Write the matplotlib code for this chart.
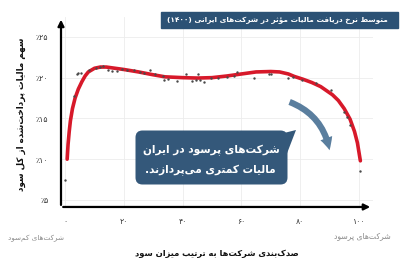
import re
import matplotlib
matplotlib.use("Agg")
import matplotlib.pyplot as plt
from matplotlib.patches import Rectangle, FancyBboxPatch, Polygon, FancyArrowPatch

# --- data ---
dot_pct = [0, 3, 4, 4.5, 5.5, 8, 10.5, 12, 13, 14.6, 16, 17.6, 19.3, 21, 23.3, 25.6, 27,
           29, 30.7, 33.2, 33.5, 35, 38, 41, 43.2, 44.4, 45.2, 46, 47.4, 49.5, 52, 55,
           57.4, 58.6, 64.3, 69.4, 70, 75.7, 77.4, 80.8, 85.3, 90.4, 95, 96, 97, 100.4]
dot_val = [7.5, 17.8, 20.5, 20.6, 20.6, 20.9, 21.2, 21.35, 21.4, 20.9, 20.8, 20.8, 21.0,
           20.9, 20.9, 20.7, 20.6, 20.9, 20.5, 20.2, 19.7, 19.8, 19.6, 20.5, 19.6, 19.7,
           20.4, 19.7, 19.5, 19.9, 20.0, 20.1, 20.25, 20.75, 20.0, 20.4, 20.45, 20.0,
           20.1, 19.7, 19.3, 18.5, 15.8, 15.2, 14.2, 8.5]

fit_pct = [0.7, 1.0, 1.4, 1.8, 2.5, 3.4, 4.5, 5.7, 6.8, 7.9, 10, 12, 14, 17, 20, 25, 30,
           34, 40, 45, 50, 55, 60, 65, 70, 73, 76, 78, 81, 84, 87, 89, 91, 93, 95, 97,
           98.5, 99.5, 100.5]
fit_val = [10.0, 11.8, 13.4, 14.7, 16.2, 17.5, 18.6, 19.5, 20.2, 20.7, 21.15, 21.3, 21.3,
           21.15, 21.0, 20.7, 20.35, 20.1, 20.0, 19.95, 20.0, 20.2, 20.45, 20.7, 20.75,
           20.7, 20.45, 20.15, 19.8, 19.4, 18.9, 18.4, 17.9, 17.2, 16.2, 14.9, 13.4, 12.0,
           9.8]

x_ticks = [0, 20, 40, 60, 80, 100]
x_labels = ["۰", "۲۰", "۴۰", "۶۰", "۸۰", "۱۰۰"]
y_ticks = [5, 10, 15, 20, 25]
y_labels = ["٪۵", "٪۱۰", "٪۱۵", "٪۲۰", "٪۲۵"]

title = "متوسط نرخ دریافت مالیات مؤثر در شرکت‌های ایرانی (۱۴۰۰)"
ylab = "سهم مالیات پرداخت‌شده از کل سود"
xlab = "صدک‌بندی شرکت‌ها به ترتیب میزان سود"
low_lab = "شرکت‌های کم‌سود"
high_lab = "شرکت‌های پرسود"
note = ["شرکت‌های پرسود در ایران", "مالیات کمتری می‌پردازند."]

# --- minimal persian shaping (matplotlib has no bidi / joining) ---
FORMS = {
    "ا": (0xFE8D, 0xFE8E), "د": (0xFEA9, 0xFEAA), "ر": (0xFEAD, 0xFEAE),
    "ز": (0xFEAF, 0xFEB0), "و": (0xFEED, 0xFEEE), "ؤ": (0xFE85, 0xFE86),
    "ب": (0xFE8F, 0xFE90, 0xFE91, 0xFE92), "پ": (0xFB56, 0xFB57, 0xFB58, 0xFB59),
    "ت": (0xFE95, 0xFE96, 0xFE97, 0xFE98), "ث": (0xFE99, 0xFE9A, 0xFE9B, 0xFE9C),
    "خ": (0xFEA5, 0xFEA6, 0xFEA7, 0xFEA8), "س": (0xFEB1, 0xFEB2, 0xFEB3, 0xFEB4),
    "ش": (0xFEB5, 0xFEB6, 0xFEB7, 0xFEB8), "ص": (0xFEB9, 0xFEBA, 0xFEBB, 0xFEBC),
    "ط": (0xFEC1, 0xFEC2, 0xFEC3, 0xFEC4), "ف": (0xFED1, 0xFED2, 0xFED3, 0xFED4),
    "ل": (0xFEDD, 0xFEDE, 0xFEDF, 0xFEE0), "م": (0xFEE1, 0xFEE2, 0xFEE3, 0xFEE4),
    "ن": (0xFEE5, 0xFEE6, 0xFEE7, 0xFEE8), "ه": (0xFEE9, 0xFEEA, 0xFEEB, 0xFEEC),
    "ک": (0xFB8E, 0xFB8F, 0xFB90, 0xFB91), "ی": (0xFBFC, 0xFBFD, 0xFBFE, 0xFBFF),
}


def fa(text):
    out = []
    n = len(text)
    for i, c in enumerate(text):
        if c not in FORMS:
            if c != "\u200c":
                out.append(c)
            continue
        f = FORMS[c]
        prev = text[i - 1] if i > 0 else ""
        nxt = text[i + 1] if i + 1 < n else ""
        jp = prev in FORMS and len(FORMS[prev]) == 4
        jn = len(f) == 4 and nxt in FORMS
        if jp and jn:
            g = f[3]
        elif jp:
            g = f[1]
        elif jn:
            g = f[2]
        else:
            g = f[0]
        out.append(chr(g))
    s = "".join(out)
    parts = re.split(r"([۰-۹0-9]+)", s)
    res = []
    for p in reversed(parts):
        if re.fullmatch(r"[۰-۹0-9]+", p or "x"):
            res.append(p)
        else:
            res.append(p[::-1].translate(str.maketrans("()", ")(")))
    return "".join(res)


plt.rcParams["font.family"] = ["DejaVu Sans"]

fig = plt.figure(figsize=(4, 2.64), dpi=100)
ax = fig.add_axes([0.1525, 0.216, 0.78, 0.72])
ax.set_xlim(-1.4, 104.8)
ax.set_ylim(4.14, 27.45)

ax.grid(color="#ececec", lw=0.6)
ax.set_axisbelow(True)
for s in ax.spines.values():
    s.set_visible(False)

ax.scatter(dot_pct, dot_val, s=3, color="#4a4a4a", zorder=3, lw=0)
ax.plot(fit_pct, fit_val, color="#d7192a", lw=2.6, zorder=2, solid_capstyle="round")

ax.set_xticks(x_ticks)
ax.set_xticklabels(x_labels)
ax.set_yticks(y_ticks)
ax.set_yticklabels(y_labels)
ax.tick_params(length=0, labelsize=5.6, colors="#333333")
ax.tick_params(axis="x", pad=7)
ax.tick_params(axis="y", pad=9)

# axis arrows
ax.annotate("", xy=(1, 0), xytext=(-0.002, 0), xycoords="axes fraction",
            arrowprops=dict(arrowstyle="-|>", lw=1.6, color="black", mutation_scale=9))
ax.annotate("", xy=(0, 1), xytext=(0, -0.004), xycoords="axes fraction",
            arrowprops=dict(arrowstyle="-|>", lw=1.6, color="black", mutation_scale=9))

# overlay in pixel coordinates for the decorations
ov = fig.add_axes([0, 0, 1, 1], facecolor="none")
ov.set_xlim(0, 400)
ov.set_ylim(264, 0)
ov.axis("off")

ov.add_patch(Rectangle((161, 12), 237, 16, color="#2c5275"))
ov.text(277, 20, fa(title), color="white", fontsize=5.3, fontweight="bold",
        ha="center", va="center")

ov.add_patch(FancyBboxPatch((137, 132), 149, 51, boxstyle="round,pad=1.5,rounding_size=7",
                            color="#34587a", lw=0))
ov.add_patch(Polygon([(280, 134), (296, 130), (286, 156)], color="#34587a", lw=0))
ov.text(143, 150, fa(note[0]), color="white", fontsize=7.6, fontweight="bold",
        ha="left", va="center")
ov.text(145, 170, fa(note[1]), color="white", fontsize=7.6, fontweight="bold",
        ha="left", va="center")

ov.add_patch(FancyArrowPatch((287, 101), (330, 153), connectionstyle="arc3,rad=-0.3",
                             arrowstyle="simple,head_width=9,head_length=9,tail_width=4.5",
                             color="#5a7e9e", lw=0))

ov.text(21, 114, fa(ylab), rotation=90, fontsize=6.3, fontweight="bold",
        ha="center", va="center", color="#111111")
ov.text(217, 254, fa(xlab), fontsize=6.0, fontweight="bold",
        ha="center", va="center", color="#111111")
ov.text(64, 238, fa(low_lab), fontsize=5.2, ha="right", va="center", color="#8a8a8a")
ov.text(391, 236, fa(high_lab), fontsize=5.5, ha="right", va="center", color="#8a8a8a")

fig.savefig("out.png", dpi=100)
